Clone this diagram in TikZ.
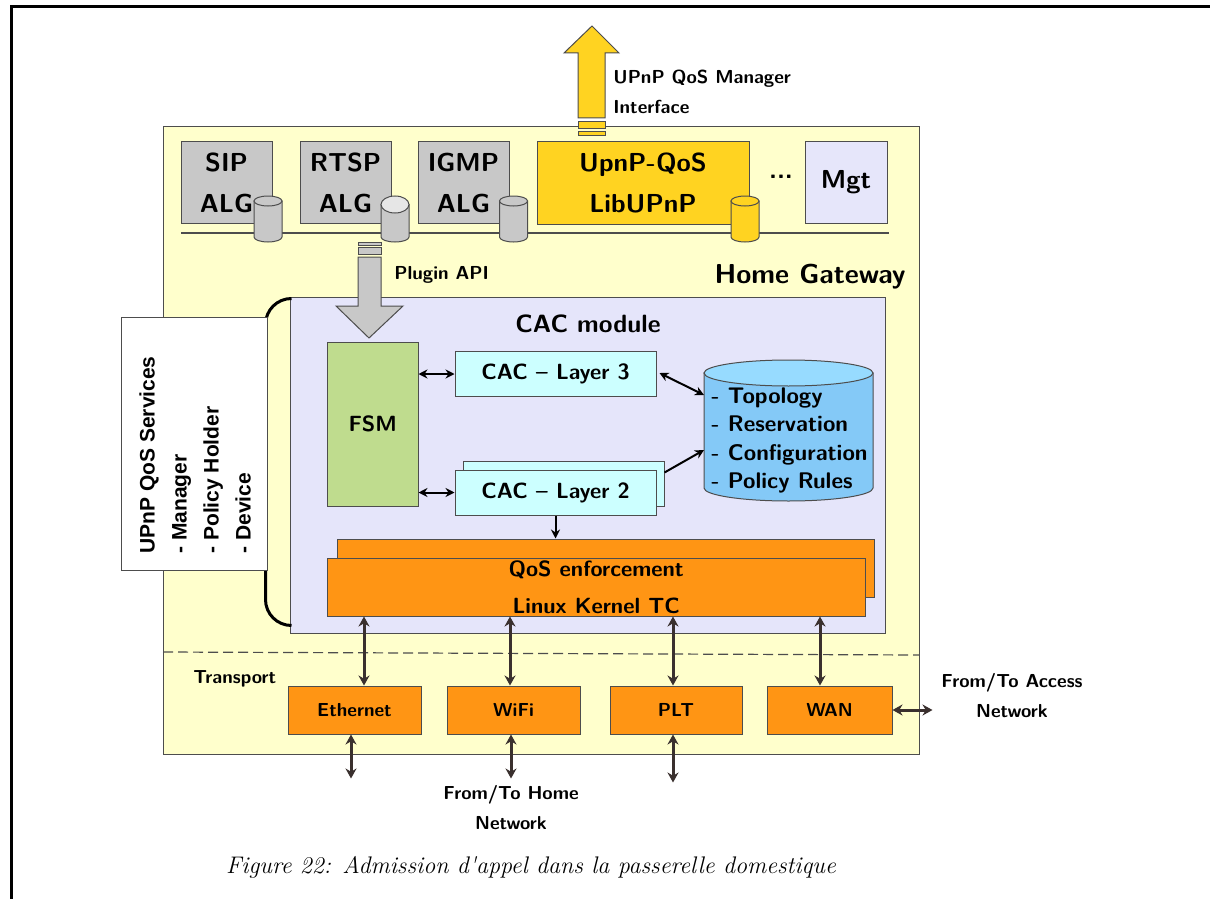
\documentclass[tikz,border=0pt]{standalone}
\usepackage{fontspec}
\newfontfamily\svcfont{Liberation Sans}
\usetikzlibrary{arrows.meta}

\definecolor{gwyellow}{HTML}{FFFFCC}
\definecolor{alggray}{HTML}{C8C8C8}
\definecolor{algtop}{HTML}{E6E6E6}
\definecolor{libgold}{HTML}{FFD321}
\definecolor{mgtlav}{HTML}{E6E6FA}
\definecolor{cacbg}{HTML}{E5E5FA}
\definecolor{fsmgreen}{HTML}{BFDC8E}
\definecolor{layercyan}{HTML}{CCFFFF}
\definecolor{dbblue}{HTML}{84C9F7}
\definecolor{dbtop}{HTML}{97DBFF}
\definecolor{qosorange}{HTML}{FF9514}
\definecolor{boxline}{HTML}{4D4D4D}
\definecolor{linkbrown}{HTML}{3A302E}

\newcommand{\topfont}{\sffamily\bfseries\fontsize{13}{20.5}\selectfont}
\newcommand{\cacfont}{\sffamily\bfseries\fontsize{11}{18.5}\selectfont}
\newcommand{\dbfont}{\sffamily\bfseries\fontsize{11.3}{14.3}\selectfont}
\newcommand{\smallfont}{\sffamily\bfseries\fontsize{9.4}{15}\selectfont}

% cylinder: x centre, body fill, top fill, top radius
\newcommand{\drum}[4]{%
  \filldraw[fill=#2, draw=boxline, line width=0.5pt]
    (#1-14,196+#4) -- (#1-14,237) arc[start angle=180, end angle=0, x radius=14, y radius=5]
    -- (#1+14,196+#4) -- cycle;
  \filldraw[fill=#3, draw=boxline, line width=0.5pt] (#1,196+#4) ellipse[x radius=14, y radius=#4];
}

\tikzset{
  box/.style={draw=boxline, line width=0.5pt, inner sep=0pt, align=center},
  alg/.style={box, fill=alggray, minimum width=45.5pt, minimum height=40.5pt, font=\topfont},
  layer/.style={box, fill=layercyan, minimum width=100.5pt, minimum height=22.5pt, font=\cacfont},
  iface/.style={box, fill=qosorange, minimum width=66.5pt, minimum height=24pt, font=\smallfont},
  label/.style={inner sep=0pt, font=\smallfont},
  link/.style={draw=linkbrown, line width=1.5pt, {Stealth[length=5pt,width=5.5pt]}-{Stealth[length=5pt,width=5.5pt]}},
  cacarrow/.style={draw=black, line width=1pt, {Stealth[length=4.5pt,width=4.5pt]}-{Stealth[length=4.5pt,width=4.5pt]}},
  cacto/.style={draw=black, line width=1pt, -{Stealth[length=4.5pt,width=4.5pt]}},
  blockarrow/.style={draw=boxline, line width=0.5pt}
}

\begin{document}
\begin{tikzpicture}[x=0.5pt, y=-0.5pt]
  \useasboundingbox (0,0) rectangle (1210,899);

  % Page frame
  \draw[line width=1.5pt] (1210,7) -- (11,7) -- (11,899);

  % Home gateway
  \node[box, fill=gwyellow, minimum width=378pt, minimum height=313.5pt] (gw) at (541,440.5) {};
  \node[label, font=\sffamily\bfseries\fontsize{13.7}{16}\selectfont, anchor=base east] (gwname) at (906,283) {Home Gateway};

  % Application level gateways
  \draw[boxline, line width=0.6pt] (181,233) -- (889,233);
  \node[alg] (sip) at (226.5,182.5) {SIP\\ALG};
  \node[alg] (rtsp) at (345.5,182.5) {RTSP\\ALG};
  \node[alg] (igmp) at (463.5,182.5) {IGMP\\ALG};
  \node[alg, fill=libgold, minimum width=106pt, minimum height=41pt] (upnp) at (643,183) {UpnP-QoS\\LibUPnP};
  \node[font=\topfont] (dots) at (781,177) {...};
  \node[alg, fill=mgtlav, minimum width=41pt] (mgt) at (846,182.5) {Mgt};
  \drum{268}{alggray}{alggray}{5}
  \drum{395}{alggray}{algtop}{8.5}
  \drum{513.5}{alggray}{alggray}{5}
  \drum{745}{libgold}{libgold}{5}

  % UPnP QoS manager interface
  \filldraw[blockarrow, fill=libgold] (578,118) -- (578,53) -- (564,53) -- (592,26)
    -- (619,53) -- (605,53) -- (605,118) -- cycle;
  \filldraw[blockarrow, fill=libgold] (578,122) rectangle (605,129);
  \filldraw[blockarrow, fill=libgold] (578,132) rectangle (605,136);
  \node[label, align=left, anchor=north west] (mgrif) at (613,70) {UPnP QoS Manager\\Interface};

  % CAC module
  \node[box, fill=cacbg, minimum width=297.5pt, minimum height=168pt] (cac) at (587.5,465) {};
  \node[label, font=\sffamily\bfseries\fontsize{12.5}{15}\selectfont, anchor=base] (cacname) at (588,332) {CAC module};
  \draw[line width=1.5pt, rounded corners=13pt] ([xshift=1pt,yshift=-1pt]cac.north west) -- ++(-26,0)
    |- ([xshift=1pt,yshift=4pt]cac.south west);

  % UPnP QoS services
  \node[box, fill=white, minimum width=73pt, minimum height=126.5pt] (svc) at (194,443.5) {};
  \node[inner sep=0pt, font=\svcfont\bfseries\fontsize{10.5}{16}\selectfont, rotate=90, align=left] (svctext) at (195,455)
    {UPnP QoS Services\\ - Manager\\ - Policy Holder\\ - Device};

  % Plugin API
  \filldraw[blockarrow, fill=alggray] (358,257) -- (358,306) -- (336,306) -- (369,338)
    -- (403,306) -- (381,306) -- (381,257) -- cycle;
  \filldraw[blockarrow, fill=alggray] (358,242) rectangle (381,245);
  \filldraw[blockarrow, fill=alggray] (358,247) rectangle (381,254);
  \node[label, anchor=base west] (plugin) at (394,279) {Plugin API};

  % FSM and CAC layers
  \node[box, fill=fsmgreen, minimum width=45.25pt, minimum height=82pt, font=\cacfont] (fsm) at (372.75,424) {FSM};
  \node[layer] (l3) at (555.5,374) {CAC \textendash{} Layer 3};
  \node[layer] (l2b) at (563.5,483.5) {};
  \node[layer] (l2) at (555.5,492.5) {CAC \textendash{} Layer 2};

  % Database
  \filldraw[fill=dbblue, draw=boxline, line width=0.5pt]
    (704,373) -- (704,488) arc[start angle=180, end angle=0, x radius=84.5, y radius=13] -- (873,373) -- cycle;
  \filldraw[fill=dbtop, draw=boxline, line width=0.5pt] (788.5,373) ellipse[x radius=84.5, y radius=13];
  \node[label, font=\dbfont, align=left, anchor=north west] (db) at (711,387)
    {- Topology\\- Reservation\\- Configuration\\- Policy Rules};
  \coordinate (dbl3) at (704,395);
  \coordinate (dbl2) at (704,450);

  % QoS enforcement
  \node[box, fill=qosorange, minimum width=268.75pt, minimum height=29pt] (qosb) at (605.75,568) {};
  \node[box, fill=qosorange, minimum width=268.75pt, minimum height=29pt, font=\cacfont] (qos) at (596.25,587)
    {QoS enforcement\\Linux Kernel TC};

  % CAC links
  \draw[cacarrow] (l3.west) -- (l3.west -| fsm.east);
  \draw[cacarrow] (l2.west) -- (l2.west -| fsm.east);
  \draw[cacarrow] ([xshift=1.5pt,yshift=0.5pt]l3.east) -- (dbl3);
  \draw[cacto] ([yshift=5.5pt]l2b.east) -- (dbl2);
  \draw[cacto] (l2.south) -- (l2.south |- qosb.north);

  % Transport
  \draw[boxline, dashed, dash pattern=on 5pt off 2.5pt, line width=0.6pt] (163,652) -- (919,655);
  \node[label, anchor=base west] (transport) at (193,683) {Transport};
  \node[iface] (eth) at (354.5,710) {Ethernet};
  \node[iface] (wifi) at (513.5,710) {WiFi};
  \node[iface, minimum width=66pt] (plt) at (676,710) {PLT};
  \node[iface, minimum width=62.5pt] (wan) at (829.5,710) {WAN};

  \draw[link] ([xshift=4.75pt]eth.north) -- ([xshift=4.75pt]eth.north |- qos.south);
  \draw[link] ([xshift=-1.75pt]wifi.north) -- ([xshift=-1.75pt]wifi.north |- qos.south);
  \draw[link] ([xshift=-1.5pt]plt.north) -- ([xshift=-1.5pt]plt.north |- qos.south);
  \draw[link] ([xshift=-4.75pt]wan.north) -- ([xshift=-4.75pt]wan.north |- qos.south);

  \draw[link] ([xshift=-1.75pt]eth.south) -- ++(0,44);
  \draw[link] ([xshift=-1.25pt]wifi.south) -- ++(0,44);
  \draw[link] ([xshift=-1.5pt]plt.south) -- ++(0,48);
  \draw[link] (wan.east) -- ++(40,0);

  % Networks
  \node[label, align=center, anchor=north] (access) at (1012,673) {From/To Access\\Network};
  \node[label, align=center, anchor=north] (home) at (511,785) {From/To Home\\Network};

  % Caption
  \node[inner sep=0pt, font=\itshape\fontsize{12}{14}\selectfont, anchor=base] (caption) at (531,873)
    {Figure 22: Admission d\textquotesingle appel dans la passerelle domestique};
\end{tikzpicture}
\end{document}
